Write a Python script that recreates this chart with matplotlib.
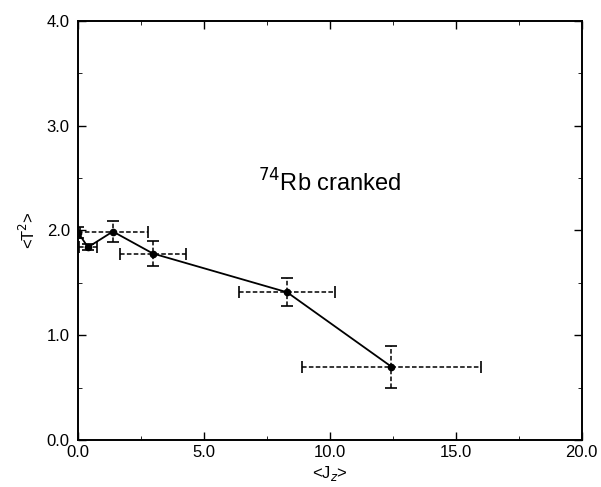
import matplotlib
matplotlib.use("Agg")
import matplotlib.pyplot as plt
from matplotlib.ticker import MultipleLocator, FormatStrFormatter

plt.rcParams['font.family'] = ['Liberation Sans', 'DejaVu Sans']

# <Jz> and <T^2> with their uncertainties
jz = [0.0, 0.39, 1.38, 2.97, 8.30, 12.44]
jz_err = [0.08, 0.37, 1.40, 1.30, 1.90, 3.56]
t2 = [1.98, 1.84, 1.99, 1.78, 1.41, 0.70]
t2_err = [0.05, 0.03, 0.10, 0.12, 0.135, 0.20]

fig = plt.figure(figsize=(6.01, 4.87), dpi=100)
ax = fig.add_axes([0.13, 0.0965, 0.838, 0.8605])

ax.plot(jz, t2, color='black', lw=1.3, zorder=3)
ax.plot(jz, t2, 'o', color='black', ms=4.5, zorder=4)
eb = ax.errorbar(jz, t2, xerr=jz_err, yerr=t2_err, fmt='none',
                 ecolor='black', elinewidth=1.1, capsize=4.5, capthick=1.2)
for col in eb[2]:
    col.set_linestyle((0, (3, 1.5)))

ax.text(10.0, 2.45, r'$^{74}$Rb cranked', fontsize=17, ha='center', va='center')

ax.set_xlim(0, 20)
ax.set_ylim(0, 4)
ax.xaxis.set_major_locator(MultipleLocator(5))
ax.xaxis.set_minor_locator(MultipleLocator(2.5))
ax.yaxis.set_major_locator(MultipleLocator(1))
ax.yaxis.set_minor_locator(MultipleLocator(0.5))
ax.xaxis.set_major_formatter(FormatStrFormatter('%.1f'))
ax.yaxis.set_major_formatter(FormatStrFormatter('%.1f'))
ax.tick_params(which='both', direction='in', top=True, right=True, labelsize=12)
ax.tick_params(which='major', length=6, width=1.0)
ax.tick_params(which='minor', length=3)
ax.tick_params(axis='y', pad=6)
for s in ax.spines.values():
    s.set_linewidth(1.4)

ax.set_xlabel(r'<J$_z$>', fontsize=12, labelpad=3)
ax.set_ylabel(r'<T$^2$>', fontsize=12, labelpad=6)

fig.savefig('out.png', dpi=100)
